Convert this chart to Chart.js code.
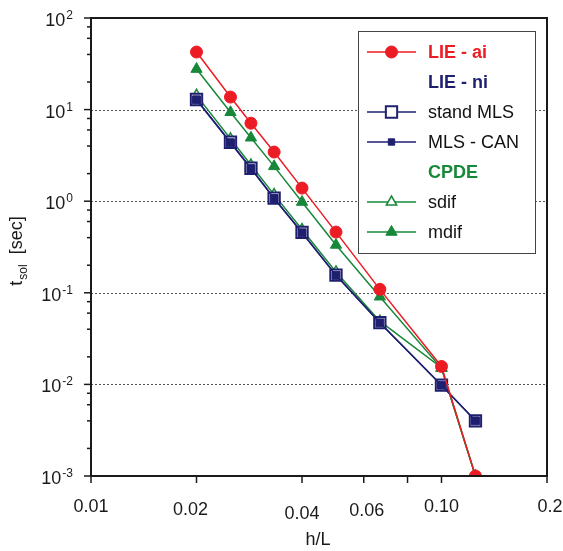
<!DOCTYPE html>
<html>
<head>
  <title>t_sol vs h/L</title>
  <script src="https://cdn.jsdelivr.net/npm/chart.js"></script>
  <style>
    body { margin: 0; background: #fff; }
    canvas { display: block; }
  </style>
</head>
<body>
  <canvas id="solChart" width="563" height="551"></canvas>
  <script>
    // h/L values (x) and solution times in seconds (y)
    var hL       = [0.020, 0.025, 0.0286, 0.0333, 0.040, 0.050, 0.0667, 0.100, 0.125];
    var lieAi    = [42.5, 13.7, 7.1, 3.44, 1.39, 0.46, 0.109, 0.0157, 0.001];
    var standMLS = [12.9, 4.40, 2.29, 1.08, 0.457, 0.156, 0.0472, 0.0098, 0.0040];
    var mlsCan   = [12.8, 4.35, 2.27, 1.07, 0.452, 0.155, 0.0470, 0.0098, 0.0040];
    var sdif     = [14.3, 4.8, 2.48, 1.18, 0.49, 0.169, 0.049, 0.0152, 0.001];
    var mdif     = [27.7, 9.35, 4.93, 2.40, 0.98, 0.333, 0.0906, 0.0150, 0.001];

    var xTickValues = [0.01, 0.02, 0.04, 0.06, 0.08, 0.10, 0.2];
    var xTickLabels = ['0.01', '0.02', '0.04', '0.06', '', '0.10', '0.2'];
    var yExponents  = [-3, -2, -1, 0, 1, 2];

    var legendLabels = ['LIE - ai', 'LIE - ni', 'stand MLS', 'MLS - CAN', 'CPDE', 'sdif', 'mdif'];

    var RED = '#ec1c24', NAVY = '#1f1f70', GREEN = '#17883a';
    var FONT = 'Arial, "Liberation Sans", sans-serif';

    function pts(ys) {
      return hL.map(function(x, i) { return { x: x, y: ys[i] }; });
    }

    // marker styles shared by plot and legend
    var markers = {
      circle:   { pointStyle: 'circle',   pointRadius: 6,   pointBackgroundColor: RED,    pointBorderColor: RED,   pointBorderWidth: 1 },
      openRect: { pointStyle: 'rect',     pointRadius: 8,   pointBackgroundColor: '#fff', pointBorderColor: NAVY,  pointBorderWidth: 2 },
      fillRect: { pointStyle: 'rect',     pointRadius: 5.6, pointBackgroundColor: NAVY,   pointBorderColor: NAVY,  pointBorderWidth: 1 },
      openTri:  { pointStyle: 'triangle', pointRadius: 6,   pointBackgroundColor: '#fff', pointBorderColor: GREEN, pointBorderWidth: 1.5 },
      fillTri:  { pointStyle: 'triangle', pointRadius: 6.5, pointBackgroundColor: GREEN,  pointBorderColor: GREEN, pointBorderWidth: 1 }
    };
    var legendSquare = Object.assign({}, markers.fillRect, { pointRadius: 4.5 });

    function series(label, ys, color, marker, order) {
      return Object.assign({
        label: label,
        data: pts(ys),
        showLine: true,
        borderColor: color,
        borderWidth: 1.5,
        order: order
      }, markers[marker]);
    }

    // legend rows: label, text colour, bold, marker (null = header only)
    var legendRows = [
      { text: legendLabels[0], color: RED,   bold: true,  line: RED,   marker: markers.circle },
      { text: legendLabels[1], color: NAVY,  bold: true,  line: null,  marker: null },
      { text: legendLabels[2], color: '#111', bold: false, line: NAVY,  marker: markers.openRect },
      { text: legendLabels[3], color: '#111', bold: false, line: NAVY,  marker: legendSquare },
      { text: legendLabels[4], color: GREEN, bold: true,  line: null,  marker: null },
      { text: legendLabels[5], color: '#111', bold: false, line: GREEN, marker: markers.openTri },
      { text: legendLabels[6], color: '#111', bold: false, line: GREEN, marker: markers.fillTri }
    ];

    function drawMarker(ctx, m, x, y) {
      var r = m.pointRadius;
      ctx.save();
      ctx.fillStyle = m.pointBackgroundColor;
      ctx.strokeStyle = m.pointBorderColor;
      ctx.lineWidth = m.pointBorderWidth;
      ctx.beginPath();
      if (m.pointStyle === 'circle') {
        ctx.arc(x, y, r, 0, Math.PI * 2);
      } else if (m.pointStyle === 'rect') {
        var s = Math.SQRT1_2 * r;
        ctx.rect(x - s, y - s, 2 * s, 2 * s);
      } else {
        var e = r * 3 / Math.sqrt(3), h = e * Math.sqrt(3) / 2;
        ctx.moveTo(x - e / 2, y + h / 3);
        ctx.lineTo(x + e / 2, y + h / 3);
        ctx.lineTo(x, y - 2 * h / 3);
        ctx.closePath();
      }
      ctx.fill();
      ctx.stroke();
      ctx.restore();
    }

    var backgroundPlugin = {
      id: 'dottedGrid',
      beforeDatasetsDraw: function(chart) {
        var ctx = chart.ctx, a = chart.chartArea, ys = chart.scales.y;
        ctx.save();
        ctx.strokeStyle = '#555';
        ctx.lineWidth = 1;
        ctx.setLineDash([2, 2]);
        yExponents.forEach(function(e) {
          if (e === yExponents[0] || e === yExponents[yExponents.length - 1]) return;
          var py = Math.round(ys.getPixelForValue(Math.pow(10, e))) + 0.5;
          ctx.beginPath();
          ctx.moveTo(a.left, py);
          ctx.lineTo(a.right, py);
          ctx.stroke();
        });
        ctx.restore();
      }
    };

    var framePlugin = {
      id: 'frame',
      afterDraw: function(chart) {
        var ctx = chart.ctx, a = chart.chartArea;
        var xs = chart.scales.x, ys = chart.scales.y;
        ctx.save();

        // legend box
        var bx = 358.5, by = 31.5, bw = 177, bh = 222;
        ctx.fillStyle = '#fff';
        ctx.fillRect(bx, by, bw, bh);
        ctx.strokeStyle = '#444';
        ctx.lineWidth = 1;
        ctx.strokeRect(bx, by, bw, bh);
        legendRows.forEach(function(row, i) {
          var cy = 52 + i * 30;
          if (row.line) {
            ctx.strokeStyle = row.line;
            ctx.lineWidth = 1.5;
            ctx.beginPath();
            ctx.moveTo(367, cy);
            ctx.lineTo(416, cy);
            ctx.stroke();
          }
          if (row.marker) drawMarker(ctx, row.marker, 391.5, cy);
          ctx.fillStyle = row.color;
          ctx.font = (row.bold ? 'bold ' : '') + '18px ' + FONT;
          ctx.textAlign = 'left';
          ctx.textBaseline = 'middle';
          ctx.fillText(row.text, 428, cy + 1);
        });

        // axes frame
        ctx.strokeStyle = '#1a1a1a';
        ctx.lineWidth = 2;
        ctx.strokeRect(a.left, a.top, a.right - a.left, a.bottom - a.top);

        // y ticks and labels
        ctx.lineWidth = 1.5;
        yExponents.forEach(function(e, k) {
          var py = ys.getPixelForValue(Math.pow(10, e));
          ctx.beginPath();
          ctx.moveTo(a.left - 7, py);
          ctx.lineTo(a.left, py);
          ctx.stroke();
          if (k < yExponents.length - 1) {
            [2, 4, 6, 8].forEach(function(m) {
              var pm = ys.getPixelForValue(m * Math.pow(10, e));
              ctx.beginPath();
              ctx.moveTo(a.left - 4, pm);
              ctx.lineTo(a.left, pm);
              ctx.stroke();
            });
          }
          var sup = String(e);
          ctx.fillStyle = '#1a1a1a';
          ctx.font = '12px ' + FONT;
          var supW = ctx.measureText(sup).width;
          var right = a.left - 18;
          ctx.textAlign = 'left';
          ctx.textBaseline = 'alphabetic';
          ctx.fillText(sup, right - supW, py + 1);
          ctx.font = '18px ' + FONT;
          ctx.textAlign = 'right';
          ctx.textBaseline = 'middle';
          ctx.fillText('10', right - supW - 1, py + 3);
        });

        // x ticks and labels
        var labelShift = { '0.01': [0, 0], '0.02': [-6, 3], '0.04': [0, 7], '0.06': [3, 4], '0.10': [0, 0], '0.2': [3, 0] };
        xTickValues.forEach(function(v, i) {
          var px = xs.getPixelForValue(v);
          ctx.beginPath();
          ctx.moveTo(px, a.bottom);
          ctx.lineTo(px, a.bottom + 7);
          ctx.stroke();
          var lab = xTickLabels[i];
          if (!lab) return;
          var sh = labelShift[lab];
          ctx.font = '18px ' + FONT;
          ctx.textAlign = 'center';
          ctx.textBaseline = 'middle';
          ctx.fillText(lab, px + sh[0], 507 + sh[1]);
        });

        // axis titles
        ctx.font = '18px ' + FONT;
        ctx.textAlign = 'center';
        ctx.fillText('h/L', (a.left + a.right) / 2 - 1, 540);

        ctx.translate(17, 251);
        ctx.rotate(-Math.PI / 2);
        ctx.textAlign = 'left';
        var big = '18px ' + FONT, small = '12px ' + FONT;
        ctx.font = big;
        var wT = ctx.measureText('t').width, wRest = ctx.measureText('  [sec]').width;
        ctx.font = small;
        var wSub = ctx.measureText('sol').width;
        var u = -(wT + wSub + 1 + wRest) / 2;
        ctx.font = big;
        ctx.fillText('t', u, 0);
        ctx.font = small;
        ctx.fillText('sol', u + wT + 1, 7);
        ctx.font = big;
        ctx.fillText('  [sec]', u + wT + 1 + wSub, 0);
        ctx.restore();
      }
    };

    var ctx = document.getElementById('solChart').getContext('2d');
    var solChart = new Chart(ctx, {
      type: 'scatter',
      data: {
        datasets: [
          series('LIE - ai', lieAi, RED, 'circle', 0),
          series('MLS - CAN', mlsCan, NAVY, 'fillRect', 1),
          series('stand MLS', standMLS, NAVY, 'openRect', 2),
          series('mdif', mdif, GREEN, 'fillTri', 3),
          series('sdif', sdif, GREEN, 'openTri', 4)
        ]
      },
      options: {
        responsive: false,
        animation: false,
        layout: { padding: { top: 18, right: 16, left: 0, bottom: 0 } },
        plugins: {
          legend: { display: false },
          tooltip: { enabled: false }
        },
        scales: {
          x: {
            type: 'logarithmic',
            min: 0.01,
            max: 0.2,
            ticks: { display: false },
            grid: { display: false },
            border: { display: false },
            afterFit: function(s) { s.height = 75; }
          },
          y: {
            type: 'logarithmic',
            min: 0.001,
            max: 100,
            ticks: { display: false },
            grid: { display: false },
            border: { display: false },
            afterFit: function(s) { s.width = 91; }
          }
        }
      },
      plugins: [backgroundPlugin, framePlugin]
    });
  </script>
</body>
</html>
